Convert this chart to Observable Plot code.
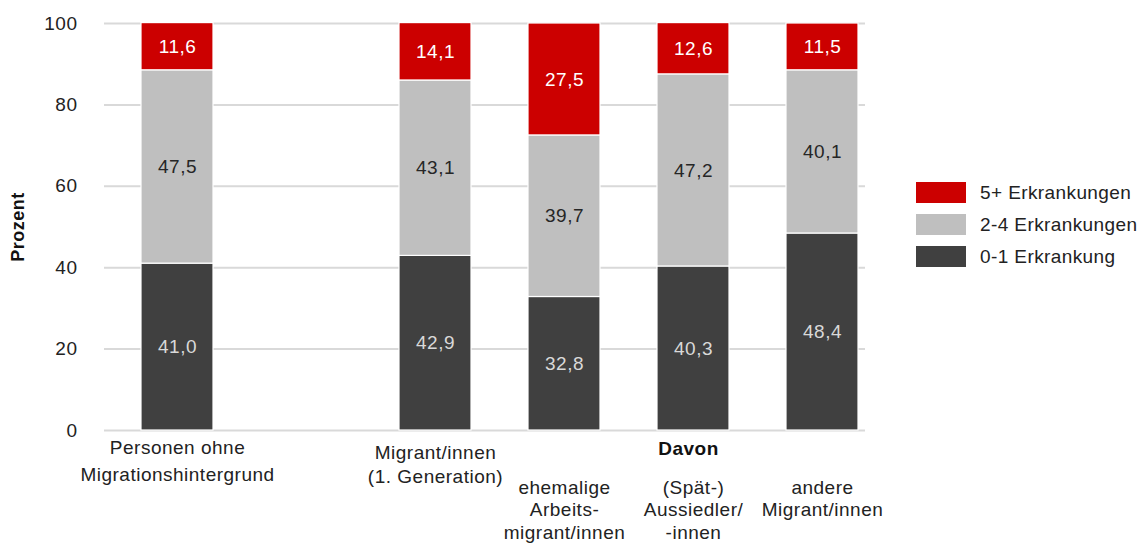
<!DOCTYPE html>
<html>
<head>
<meta charset="utf-8">
<script src="https://cdn.jsdelivr.net/npm/d3@7"></script>
<script src="https://cdn.jsdelivr.net/npm/@observablehq/plot@0.6"></script>
<style>
  html, body { margin: 0; padding: 0; background: #ffffff; }
  #wrap { position: relative; width: 1140px; height: 543px; font-family: "Liberation Sans", Arial, sans-serif; }
  #chart svg text { letter-spacing: 0.5px; }
  #legend { position: absolute; left: 916px; top: 182px; }
  .row { display: flex; align-items: center; height: 21px; margin-bottom: 11px; font-size: 19px; color: #222; letter-spacing: 0.4px; }
  .sw { width: 50px; height: 21px; margin-right: 14px; }
</style>
</head>
<body>
<div id="wrap"><div id="chart"></div><div id="legend"></div></div>
<script>
// ---- data ----
const categories = [
  "Personen ohne\nMigrationshintergrund",
  "Migrant/innen\n(1. Generation)",
  "ehemalige\nArbeits-\nmigrant/innen",
  "(Spät-)\nAussiedler/\n-innen",
  "andere\nMigrant/innen"
];
const groupLabel = "Davon";
const series = ["0-1 Erkrankung", "2-4 Erkrankungen", "5+ Erkrankungen"];
const values01 = [41.0, 42.9, 32.8, 40.3, 48.4];
const values24 = [47.5, 43.1, 39.7, 47.2, 40.1];
const values5p = [11.6, 14.1, 27.5, 12.6, 11.5];
const yTicks = [0, 20, 40, 60, 80, 100];
const yLabel = "Prozent";
const seriesColors = ["#404040", "#bfbfbf", "#cc0000"];
const valueTextColors = ["#d9d9d9", "#262626", "#ffffff"];

// ---- table ----
const seriesValues = [values01, values24, values5p];
const data = [];
categories.forEach((c, i) => {
  series.forEach((s, k) => data.push({category: c, series: s, k, value: seriesValues[k][i]}));
});
const spacer = "";
const xDomain = [categories[0], spacer, ...categories.slice(1)];
const fmt = v => v.toFixed(1).replace(".", ",");

const chart = Plot.plot({
  width: 1140,
  height: 543,
  marginTop: 23,
  marginBottom: 113,
  marginLeft: 104,
  marginRight: 275,
  style: {fontFamily: "Liberation Sans, Arial, sans-serif", fontSize: "19px", color: "#222", background: "#fff"},
  x: {domain: xDomain, range: [138.5, 860], paddingInner: 0.4457, paddingOuter: 0, axis: null},
  y: {domain: [0, 100], axis: null},
  color: {type: "identity"},
  marks: [
    Plot.gridY(yTicks, {stroke: "#d9d9d9", strokeWidth: 2, strokeOpacity: 1}),
    Plot.axisY(yTicks, {tickSize: 0, tickPadding: 27, label: null, fontSize: 19, fill: "#222"}),
    Plot.text([yLabel], {frameAnchor: "left", textAnchor: "middle", dx: -86, rotate: -90, fontWeight: "bold", fontSize: 18, fill: "#111"}),
    Plot.barY(data, Plot.stackY({x: "category", y: "value", z: "series", fill: d => seriesColors[d.k], stroke: "#fff", strokeWidth: 1.2})),
    Plot.text(data, Plot.stackY({x: "category", y: "value", z: "series", text: d => fmt(d.value), fill: d => valueTextColors[d.k], fontSize: 19})),
    Plot.text([categories[0]], {x: d => d, text: d => d, frameAnchor: "bottom", lineAnchor: "top", dy: 3.5, lineHeight: 1.45, fontSize: 19, fill: "#222"}),
    Plot.text([categories[1]], {x: d => d, text: d => d, frameAnchor: "bottom", lineAnchor: "top", dy: 10.5, lineHeight: 1.3, fontSize: 19, fill: "#222"}),
    Plot.text(categories.slice(2), {x: d => d, text: d => d, frameAnchor: "bottom", lineAnchor: "top", dy: 47, lineHeight: 1.2, fontSize: 19, fill: "#222"}),
    Plot.text([groupLabel], {x: () => categories[3], text: d => d, frameAnchor: "bottom", lineAnchor: "top", dy: 11, dx: -5, fontWeight: "bold", fontSize: 19, fill: "#111"})
  ]
});
document.getElementById("chart").appendChild(chart);

// ---- legend (top to bottom: reverse stack order) ----
const legend = document.getElementById("legend");
for (let k = series.length - 1; k >= 0; k--) {
  const row = document.createElement("div");
  row.className = "row";
  const sw = document.createElement("div");
  sw.className = "sw";
  sw.style.background = seriesColors[k];
  const label = document.createElement("span");
  label.textContent = series[k];
  row.appendChild(sw);
  row.appendChild(label);
  legend.appendChild(row);
}
</script>
</body>
</html>
